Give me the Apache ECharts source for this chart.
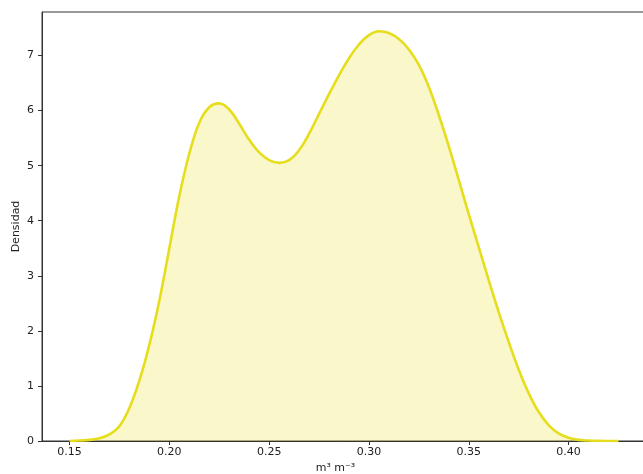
<!DOCTYPE html>
<html>
<head>
<meta charset="utf-8">
<script src="https://cdn.jsdelivr.net/npm/echarts@6/dist/echarts.min.js"></script>
<style>
html,body{margin:0;padding:0;background:#fff;}
#chart{width:643px;height:474px;}
</style>
</head>
<body>
<div id="chart"></div>
<script>
// Data
const xValues = [0.150, 0.155, 0.160, 0.165, 0.170, 0.175, 0.180, 0.185, 0.190, 0.195,
                 0.200, 0.205, 0.210, 0.215, 0.220, 0.225, 0.230, 0.235, 0.240, 0.245,
                 0.250, 0.255, 0.260, 0.265, 0.270, 0.275, 0.280, 0.285, 0.290, 0.295,
                 0.300, 0.305, 0.310, 0.315, 0.320, 0.325, 0.330, 0.335, 0.340, 0.345,
                 0.350, 0.355, 0.360, 0.365, 0.370, 0.375, 0.380, 0.385, 0.390, 0.395,
                 0.400, 0.405, 0.410, 0.415, 0.420, 0.425];
const density = [0.000, 0.008, 0.02, 0.05, 0.12, 0.27, 0.60, 1.10, 1.75, 2.55,
                 3.50, 4.45, 5.22, 5.78, 6.06, 6.13, 6.02, 5.76, 5.47, 5.24,
                 5.10, 5.05, 5.10, 5.28, 5.58, 5.94, 6.30, 6.64, 6.95, 7.20,
                 7.37, 7.44, 7.41, 7.30, 7.11, 6.83, 6.43, 5.92, 5.35, 4.74,
                 4.12, 3.52, 2.92, 2.34, 1.80, 1.30, 0.87, 0.53, 0.29, 0.14,
                 0.06, 0.02, 0.008, 0.003, 0.001, 0.000];
const xTicks = [0.15, 0.20, 0.25, 0.30, 0.35, 0.40];
const yTicks = [0, 1, 2, 3, 4, 5, 6, 7];
const xLabel = 'm³ m⁻³';
const yLabel = 'Densidad';

const chart = echarts.init(document.getElementById('chart'), null, {renderer: 'canvas'});
const font = 'DejaVu Sans';
const axisColor = '#333333';
const textColor = '#222222';

chart.setOption({
  animation: false,
  backgroundColor: '#ffffff',
  grid: {
    left: 42, top: 12, bottom: 33, width: 607,
    containLabel: false,
    outerBoundsMode: 'none',
    show: true, borderColor: axisColor, borderWidth: 1, backgroundColor: 'transparent'
  },
  xAxis: {
    type: 'value',
    min: 0.1362, max: 0.4403,
    name: xLabel,
    nameLocation: 'middle',
    nameGap: 20,
    nameTextStyle: {fontFamily: font, fontSize: 11, color: textColor, padding: [0, 20, 0, 0]},
    axisLine: {show: true, lineStyle: {color: axisColor, width: 1}},
    axisTick: {show: true, length: 4, customValues: xTicks, lineStyle: {color: axisColor}},
    axisLabel: {customValues: xTicks, fontFamily: font, fontSize: 11, color: textColor, margin: 6,
      formatter: v => v.toFixed(2)},
    splitLine: {show: false}
  },
  yAxis: {
    type: 'value',
    min: 0, max: 7.79,
    name: yLabel,
    nameLocation: 'middle',
    nameGap: 20,
    nameMoveOverlap: false,
    nameTextStyle: {fontFamily: font, fontSize: 11, color: textColor},
    axisLine: {show: true, lineStyle: {color: axisColor, width: 1}},
    axisTick: {show: true, length: 4, customValues: yTicks, lineStyle: {color: axisColor}},
    axisLabel: {customValues: yTicks, fontFamily: font, fontSize: 11, color: textColor, margin: 8},
    splitLine: {show: false}
  },
  series: [{
    type: 'line',
    data: xValues.map((x, i) => [x, density[i]]),
    smooth: 0.4,
    showSymbol: false,
    lineStyle: {color: '#e6de1c', width: 2.6},
    itemStyle: {color: '#e6de1c'},
    areaStyle: {color: 'rgba(232,222,30,0.33)', origin: 'start'}
  }]
});
</script>
</body>
</html>
